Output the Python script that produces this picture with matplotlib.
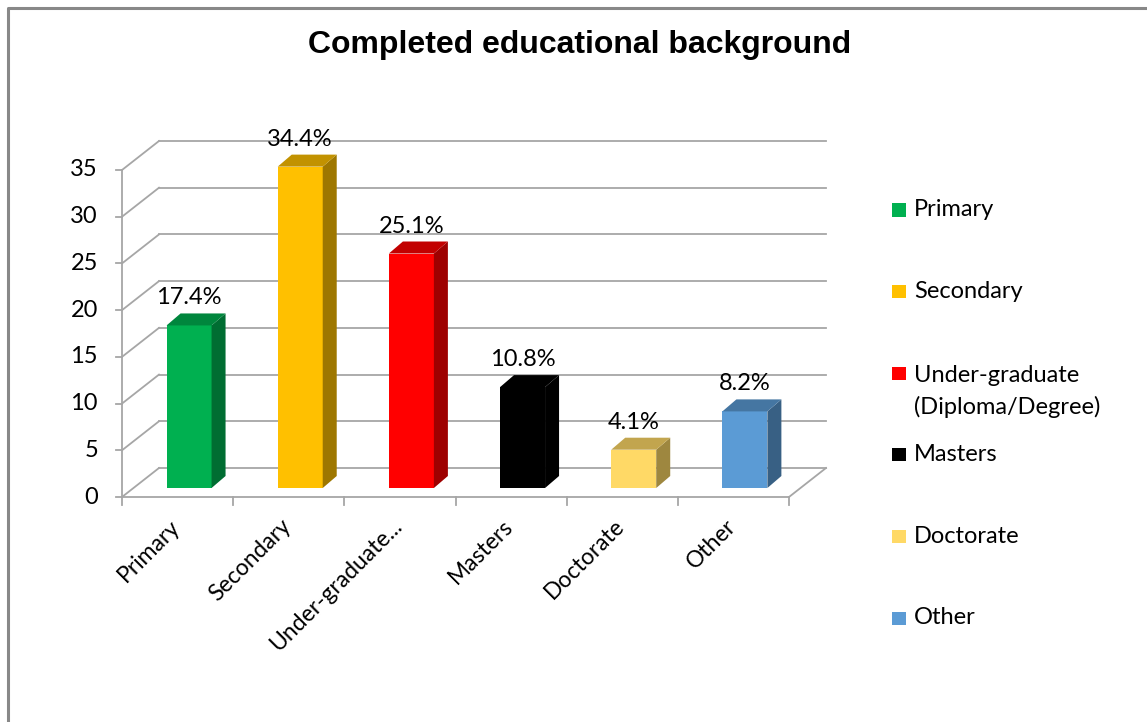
import matplotlib.pyplot as plt
from matplotlib.patches import Polygon, Rectangle
from matplotlib.lines import Line2D
from matplotlib.colors import to_rgb

# Survey results: share of respondents by highest completed education
categories = ["Primary", "Secondary", "Under-graduate (Diploma/Degree)", "Masters", "Doctorate", "Other"]
tick_labels = ["Primary", "Secondary", "Under-graduate...", "Masters", "Doctorate", "Other"]
legend_labels = ["Primary", "Secondary", "Under-graduate\n(Diploma/Degree)", "Masters", "Doctorate", "Other"]
percent = [17.4, 34.4, 25.1, 10.8, 4.1, 8.2]
colors = ["#00B050", "#FFC000", "#FF0000", "#000000", "#FFD966", "#5B9BD5"]
y_ticks = [0, 5, 10, 15, 20, 25, 30, 35]

W, H, DPI = 1147, 722, 100
fig = plt.figure(figsize=(W / DPI, H / DPI), dpi=DPI)

# front plane of the axis box, in pixels from the top-left corner
left_px, right_px, zero_px, top_px = 122, 789, 497, 170
ax = fig.add_axes([left_px / W, (H - zero_px) / H,
                   (right_px - left_px) / W, (zero_px - top_px) / H])
n = len(categories)
ymax = 35
ax.set_xlim(0, n)
ax.set_ylim(0, ymax)
ax.axis("off")

sx = (right_px - left_px) / n           # px per category
sy = (zero_px - top_px) / ymax          # px per percent unit

# oblique depth of the floor / walls
DX = 37 / sx
DY = 29 / sy

grid_kw = dict(color="#A6A6A6", lw=1.3, clip_on=False, zorder=1)
font = "Lato"

# back wall gridlines and the left wall diagonals
for t in y_ticks:
    ax.add_line(Line2D([DX, n + DX], [t + DY, t + DY], **grid_kw))
    ax.add_line(Line2D([0, DX], [t, t + DY], **grid_kw))
# floor
ax.add_line(Line2D([0, n], [0, 0], **grid_kw))
ax.add_line(Line2D([n, n + DX], [0, DY], **grid_kw))
# value axis
ax.add_line(Line2D([0, 0], [0, ymax], **grid_kw))
for t in y_ticks:
    ax.add_line(Line2D([0, -6 / sx], [t, t], **grid_kw))
    ax.text(-24 / sx, t, str(t), ha="right", va="center",
            fontsize=17, family=font, color="#000000")
for i in range(n + 1):
    ax.add_line(Line2D([i, i], [0, -8 / sy], **grid_kw))


def shade(c, k):
    r, g, b = to_rgb(c)
    return (r * k, g * k, b * k)


# bars sit part way into the depth, with their own thickness
f0 = 0.31
bx, by = f0 * DX, f0 * DY
bar_w = 45 / sx
tdx, tdy = 14 / sx, 12 / sy

for i, (v, c) in enumerate(zip(percent, colors)):
    xl = i + 0.5 - bar_w / 2 + bx
    xr = xl + bar_w
    y0, y1 = by, by + v
    ax.add_patch(Rectangle((xl, y0), bar_w, v, facecolor=c, edgecolor="none",
                           zorder=3, clip_on=False))
    ax.add_patch(Polygon([(xr, y0), (xr + tdx, y0 + tdy), (xr + tdx, y1 + tdy), (xr, y1)],
                         closed=True, facecolor=shade(c, 0.62), edgecolor="none",
                         zorder=3, clip_on=False))
    ax.add_patch(Polygon([(xl, y1), (xr, y1), (xr + tdx, y1 + tdy), (xl + tdx, y1 + tdy)],
                         closed=True, facecolor=shade(c, 0.76), edgecolor="none",
                         zorder=3, clip_on=False))
    ax.text((xl + xr) / 2, y1 + tdy + 5 / sy, f"{v}%", ha="center", va="bottom",
            fontsize=17, family=font, color="#000000", zorder=4)

# rotated category labels
for i, lab in enumerate(tick_labels):
    ax.text(i + 0.5 - 1 / sx, -26 / sy, lab, rotation=45, rotation_mode="anchor",
            ha="right", va="center", fontsize=16.5, family=font, color="#000000")

# legend on the right
leg_x, leg_y0, leg_step = 892, 210, 81.6
for k, (lab, c) in enumerate(zip(legend_labels, colors)):
    yc = leg_y0 + k * leg_step
    fig.patches.append(Rectangle((leg_x / W, (H - yc - 6.5) / H), 14 / W, 13 / H,
                                 transform=fig.transFigure, facecolor=c,
                                 edgecolor="none"))
    if "\n" in lab:
        fig.text((leg_x + 22) / W, (H - yc + 8) / H, lab, ha="left", va="top",
                 fontsize=17, family=font, color="#000000", linespacing=1.55)
    else:
        fig.text((leg_x + 22) / W, (H - yc) / H, lab, ha="left", va="center",
                 fontsize=17, family=font, color="#000000")

fig.text(580 / W, (H - 45) / H, "Completed educational background", ha="center", va="center",
         fontsize=23, fontweight="bold", family="Liberation Sans", color="#000000")

# chart frame
fig.add_artist(Line2D([8 / W, 8 / W, 1], [0, (H - 8) / H, (H - 8) / H],
                      transform=fig.transFigure, color="#888888", lw=2.2))

fig.savefig("out.png", dpi=DPI, facecolor="white")
